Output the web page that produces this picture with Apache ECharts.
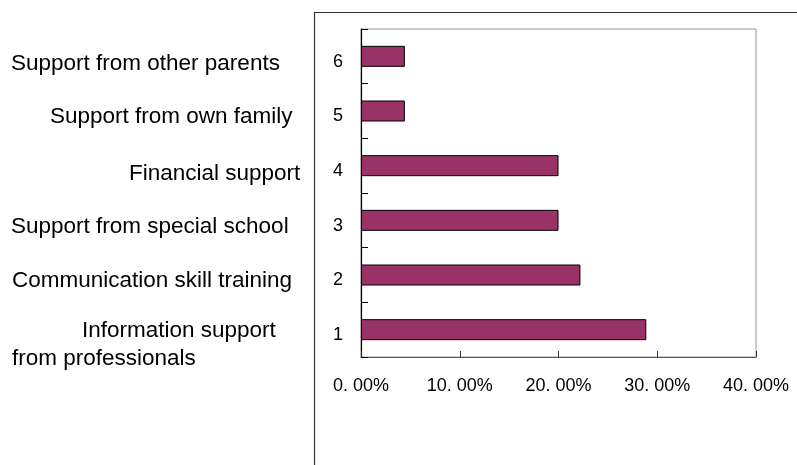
<!DOCTYPE html>
<html>
<head>
<meta charset="utf-8">
<script src="https://cdn.jsdelivr.net/npm/echarts@6/dist/echarts.min.js"></script>
<style>
  html, body { margin: 0; padding: 0; background: #ffffff; }
  #chart { width: 797px; height: 465px; }
</style>
</head>
<body>
<div id="chart"></div>
<script>
// Category numbers on the value axis side, bottom to top
const categories = ['1', '2', '3', '4', '5', '6'];

// Descriptions of each kind of support, same order as categories
const supportTypes = [
  'Information support\nfrom professionals',
  'Communication skill training',
  'Support from special school',
  'Financial support',
  'Support from own family',
  'Support from other parents'
];

// Share of respondents naming each support (percent)
const shares = [28.89, 22.22, 20.00, 20.00, 4.44, 4.44];

// Value axis ticks and their printed labels
const percentTicks = [0, 10, 20, 30, 40];
const tickLabels = ['0. 00%', '10. 00%', '20. 00%', '30. 00%', '40. 00%'];

// Where each description line sits (left x, middle y), per category
const descriptionAnchors = [
  [[82, 330.5], [12, 359]],
  [[12, 280.5]],
  [[11, 227]],
  [[129, 174]],
  [[50, 117]],
  [[11, 64]]
];

const FONT = '"Liberation Sans", Arial, Helvetica, sans-serif';

const chart = echarts.init(document.getElementById('chart'), null, { renderer: 'canvas' });

const graphics = [
  // outer chart frame (left and top edges)
  {
    type: 'polyline',
    silent: true,
    z: 0,
    shape: { points: [[314.5, 470], [314.5, 12.5], [800, 12.5]] },
    style: { stroke: '#333333', lineWidth: 1.2, fill: null }
  }
];

supportTypes.forEach(function (text, i) {
  const lines = text.split('\n');
  lines.forEach(function (line, j) {
    const pos = descriptionAnchors[i][j];
    graphics.push({
      type: 'text',
      silent: true,
      x: pos[0],
      y: pos[1],
      style: {
        text: line,
        fill: '#000000',
        font: '22.5px ' + FONT,
        textAlign: 'left',
        textVerticalAlign: 'middle'
      }
    });
  });
});

chart.setOption({
  animation: false,
  backgroundColor: '#ffffff',
  grid: {
    left: 361,
    top: 29,
    right: 41,
    bottom: 108,
    show: true,
    borderColor: '#999999',
    borderWidth: 1,
    backgroundColor: 'transparent'
  },
  xAxis: {
    type: 'value',
    min: 0,
    max: 40,
    interval: 10,
    splitLine: { show: false },
    axisLine: { show: true, lineStyle: { color: '#555555', width: 1.2 } },
    axisTick: { show: true, inside: true, length: 6, lineStyle: { color: '#333333' } },
    axisLabel: {
      margin: 20,
      color: '#000000',
      fontSize: 18,
      fontFamily: FONT,
      formatter: function (v) {
        const k = percentTicks.indexOf(v);
        return k >= 0 ? tickLabels[k] : '';
      }
    }
  },
  yAxis: {
    type: 'category',
    data: categories,
    axisLine: { show: true, lineStyle: { color: '#000000', width: 1.2 } },
    axisTick: { show: true, inside: true, length: 7, lineStyle: { color: '#000000' } },
    axisLabel: {
      margin: 18,
      color: '#000000',
      fontSize: 18,
      fontFamily: FONT,
      verticalAlign: 'top',
      lineHeight: 11
    },
    splitLine: { show: false }
  },
  series: [
    {
      type: 'bar',
      data: shares,
      barWidth: 21,
      itemStyle: {
        color: '#993366',
        borderColor: '#000000',
        borderWidth: 1
      },
      label: { show: false }
    }
  ],
  graphic: graphics
});
</script>
</body>
</html>
